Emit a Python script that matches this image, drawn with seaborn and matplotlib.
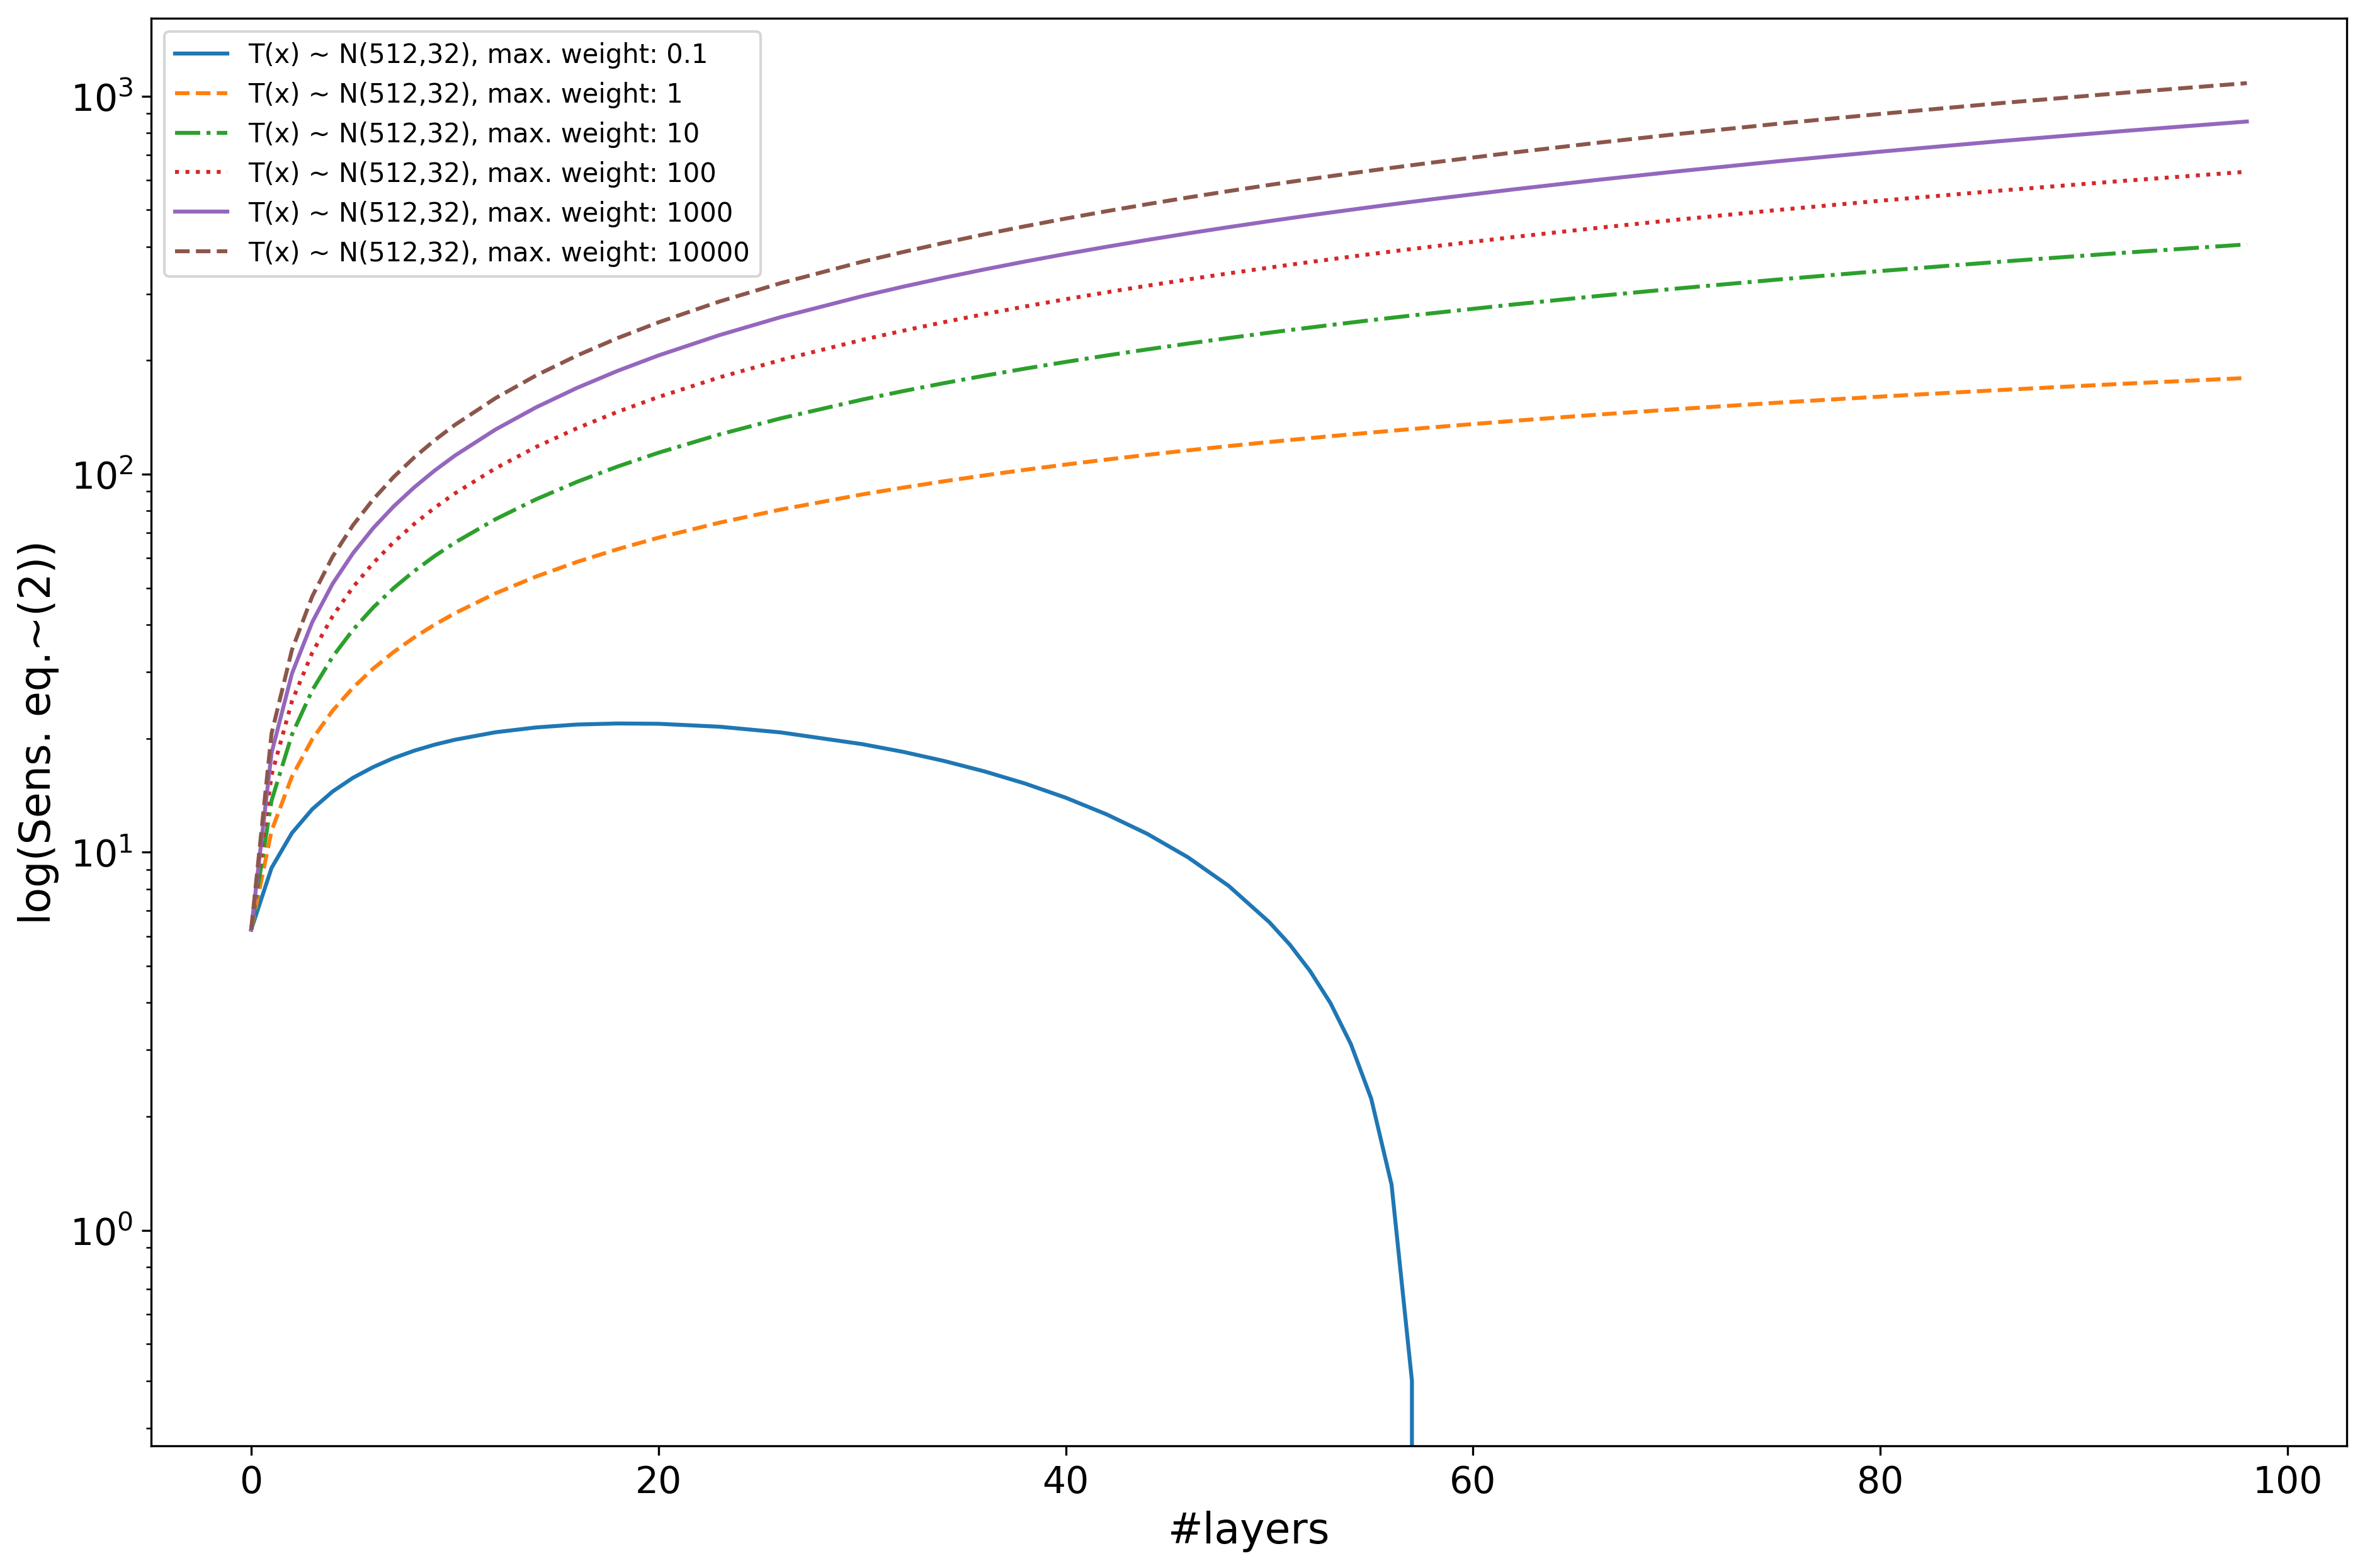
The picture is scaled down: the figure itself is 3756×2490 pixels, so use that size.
import matplotlib
matplotlib.use("Agg")
import matplotlib.pyplot as plt
import seaborn as sns

# layers
layers = [0, 1, 2, 3, 4, 5, 6, 7, 8, 9, 10, 12, 14, 16, 18, 20, 23, 26, 30, 32,
          34, 36, 38, 40, 42, 44, 46, 48, 50, 51, 52, 53, 54, 55, 56, 57, 58,
          62, 66, 70, 75, 80, 86, 92, 98]

# sensitivity per max. weight
sens_w01 = [6.24, 9.09, 11.24, 13.00, 14.48, 15.74, 16.81, 17.75, 18.56, 19.25,
            19.84, 20.77, 21.39, 21.77, 21.91, 21.87, 21.48, 20.75, 19.32, 18.44,
            17.45, 16.37, 15.20, 13.94, 12.60, 11.19, 9.70, 8.15, 6.53, 5.70,
            4.85, 3.99, 3.11, 2.23, 1.32, 0.40, -0.52,
            -4.36, -8.39, -12.60, -18.08, -23.79, -30.91, -38.32, -45.97]
sens_w1 = [6.24, 11.39, 15.85, 19.91, 23.69, 27.25, 30.63, 33.87, 36.98, 39.97,
           42.87, 48.40, 53.63, 58.61, 63.36, 67.92, 74.44, 80.62, 88.40, 92.12,
           95.74, 99.26, 102.70, 106.04, 109.31, 112.50, 115.62, 118.67, 121.66, 123.13,
           124.59, 126.03, 127.45, 128.87, 130.27, 131.65, 133.03,
           138.40, 143.58, 148.58, 154.62, 160.42, 167.11, 173.52, 179.68]
sens_w10 = [6.24, 13.69, 20.46, 26.82, 32.90, 38.76, 44.45, 49.99, 55.40, 60.69,
            65.90, 76.03, 85.87, 95.45, 104.81, 113.97, 127.40, 140.49, 157.48, 165.80,
            174.03, 182.15, 190.20, 198.14, 206.02, 213.81, 221.54, 229.19, 236.79, 240.56,
            244.33, 248.07, 251.79, 255.51, 259.22, 262.90, 266.58,
            281.16, 295.55, 309.76, 327.32, 344.63, 365.13, 385.36, 405.33]
sens_w100 = [6.24, 16.00, 25.06, 33.73, 42.11, 50.28, 58.26, 66.11, 73.82, 81.42,
             88.92, 103.66, 118.10, 132.29, 146.25, 160.02, 180.36, 200.36, 226.56, 239.49,
             252.32, 265.05, 277.70, 290.25, 302.73, 315.13, 327.46, 339.72, 351.92, 358.00,
             364.06, 370.11, 376.13, 382.16, 388.16, 394.15, 400.13,
             423.92, 447.52, 470.94, 500.01, 528.84, 563.16, 597.20, 630.99]
sens_w1000 = [6.24, 18.30, 29.67, 40.63, 51.32, 61.79, 72.08, 82.22, 92.24, 102.14,
              111.95, 131.29, 150.34, 169.13, 187.70, 206.08, 233.32, 260.22, 295.63, 313.17,
              330.61, 347.94, 365.20, 382.35, 399.44, 416.44, 433.38, 450.24, 467.05, 475.43,
              483.80, 492.14, 500.47, 508.80, 517.11, 525.39, 533.68,
              566.68, 599.49, 632.13, 672.71, 713.04, 761.18, 809.04, 856.64]
sens_w10000 = [6.24, 20.60, 34.27, 47.54, 60.53, 73.30, 85.89, 98.34, 110.66, 122.86,
               134.97, 158.92, 182.57, 205.97, 229.15, 252.13, 286.28, 320.09, 364.71, 386.85,
               408.89, 430.83, 452.69, 474.45, 496.14, 517.75, 539.29, 560.76, 582.18, 592.86,
               603.53, 614.18, 624.81, 635.44, 646.05, 656.64, 667.23,
               709.44, 751.46, 793.30, 845.39, 897.24, 959.20, 1020.87, 1082.29]

weights = ["0.1", "1", "10", "100", "1000", "10000"]
series = [sens_w01, sens_w1, sens_w10, sens_w100, sens_w1000, sens_w10000]
styles = ["-", "--", "-.", ":", "-", "--"]
colors = sns.color_palette("tab10", 6)

fig, ax = plt.subplots(figsize=(12.523, 8.303), dpi=300)

for w, vals, ls, c in zip(weights, series, styles, colors):
    sns.lineplot(x=layers, y=vals, ax=ax, color=c, linestyle=ls, linewidth=1.5,
                 label=f"T(x) ~ N(512,32), max. weight: {w}")

# log scale after plotting so the 0.1 curve drops off the bottom
ax.set_yscale("log")
ax.autoscale()

ax.set_xlabel("#layers", fontsize=16)
ax.set_ylabel("log(Sens. eq.~(2))", fontsize=16)
ax.tick_params(axis="both", which="major", labelsize=14)
ax.legend(loc="upper left", fontsize=10)

fig.subplots_adjust(left=0.064, right=0.992, top=0.988, bottom=0.078)
fig.savefig("out.png", dpi=300)
